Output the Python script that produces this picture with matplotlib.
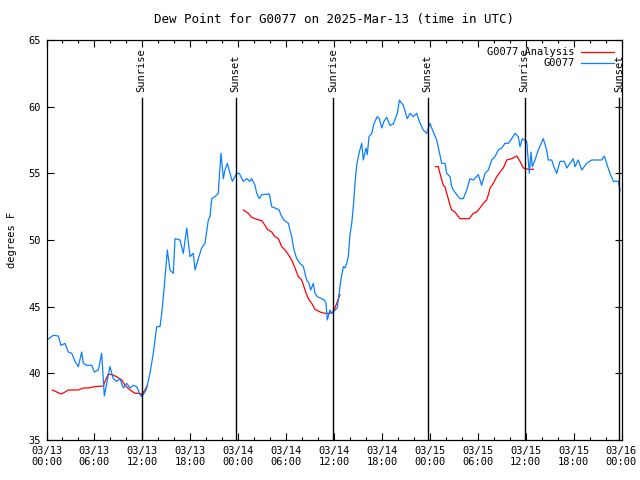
import datetime as dt
import numpy as np
import matplotlib
matplotlib.use("Agg")
import matplotlib.pyplot as plt
import matplotlib.dates as mdates

# hours after 2025-03-13 00:00 UTC, dew point in F
obs_hours = [0.15, 0.85, 1.48, 1.82, 2.32, 2.73, 3.16, 3.57, 3.98, 4.41, 4.61, 5.03, 5.66, 5.99,
             6.49, 6.91, 7.24, 7.54, 7.95, 8.36, 8.79, 9.2, 9.62, 10.04, 10.46, 10.87, 11.29,
             11.71, 11.92, 12.33, 12.55, 12.96, 13.37, 13.8, 14.21, 14.43, 14.71, 14.96, 15.13,
             15.46, 15.88, 16.09, 16.72, 17.13, 17.56, 17.97, 18.38, 18.6, 19.01, 19.43, 19.85,
             20.26, 20.47, 20.69, 21.1, 21.51, 21.64, 21.85, 22.14, 22.35, 22.64, 22.98, 23.27,
             23.82, 24.14, 24.64, 25.07, 25.48, 25.69, 26.11, 26.32, 26.65, 26.95, 27.9, 28.2,
             28.61, 29.15, 29.33, 29.74, 30.28, 30.7, 30.99, 31.33, 31.74, 32.16, 32.58, 32.87,
             33.08, 33.41, 33.62, 33.91, 34.46, 34.79, 35.0, 35.16, 35.5, 35.71, 36.13, 36.41,
             36.84, 37.17, 37.38, 37.59, 37.79, 38.0, 38.22, 38.42, 38.63, 38.84, 39.13, 39.47,
             39.67, 40.01, 40.17, 40.38, 40.72, 41.01, 41.42, 41.67, 41.97, 42.26, 42.6, 43.01,
             43.43, 43.93, 44.18, 44.68, 45.18, 45.52, 45.93, 46.36, 46.77, 47.18, 47.61, 48.02,
             48.43, 48.86, 49.19, 49.49, 49.9, 50.11, 50.53, 50.74, 50.94, 51.37, 51.78, 52.19,
             52.62, 53.03, 53.44, 54.07, 54.49, 54.91, 55.32, 55.75, 56.16, 56.57, 57.0, 57.41,
             57.83, 58.25, 58.67, 59.08, 59.29, 59.58, 60.13, 60.33, 60.46, 60.67, 60.83, 61.17,
             61.58, 62.21, 62.63, 62.83, 63.26, 63.59, 63.89, 64.3, 64.84, 65.14, 65.55, 65.97,
             66.18, 66.59, 67.02, 67.64, 68.27, 69.52, 69.85, 70.27, 70.56, 70.98, 71.61, 71.82]
obs_dew = [42.55, 42.85, 42.8, 42.1, 42.25, 41.6, 41.5, 40.9, 40.5, 41.6, 40.75, 40.6, 40.6, 40.1,
           40.25, 41.5, 38.3, 39.25, 40.5, 39.6, 39.4, 39.6, 38.9, 39.25, 38.9, 39.1, 39.0,
           38.4, 38.25, 38.6, 38.9, 40.0, 41.5, 43.5, 43.5, 44.5, 46.25, 48.0, 49.25,
           47.75, 47.5, 50.1, 50.0, 49.0, 50.9, 48.75, 49.0, 47.75, 48.6, 49.4, 49.75,
           51.5, 51.75, 53.1, 53.25, 53.5, 54.75, 56.5, 54.6, 55.25, 55.75, 55.0, 54.4,
           55.0, 55.0, 54.4, 54.6, 54.4, 54.6, 54.1, 53.5, 53.1, 53.4, 53.45, 52.5,
           52.4, 52.25, 51.9, 51.5, 51.25, 50.25, 49.25, 48.6, 48.25, 48.0, 47.0, 46.75,
           46.25, 46.75, 46.0, 45.75, 45.6, 45.5, 45.25, 44.0, 44.75, 44.5, 44.75, 44.9,
           46.9, 48.0, 47.9, 48.25, 48.75, 50.4, 51.25, 52.5, 54.25, 55.6, 56.5, 57.25,
           56.0, 56.9, 56.4, 57.75, 58.0, 58.75, 59.25, 59.1, 58.4, 58.9, 59.2, 58.6,
           58.7, 59.5, 60.5, 60.1, 59.1, 59.5, 59.25, 59.5, 58.75, 58.25, 58.0, 58.75,
           58.1, 57.5, 56.6, 55.75, 55.75, 55.0, 54.75, 54.0, 53.75, 53.4, 53.1, 53.1,
           53.75, 54.6, 54.5, 54.9, 54.1, 55.0, 55.25, 56.0, 56.25, 56.75, 56.9, 57.25,
           57.25, 57.6, 58.0, 57.75, 57.0, 57.6, 57.4, 56.0, 55.0, 56.6, 55.5, 56.0,
           56.75, 57.6, 56.75, 56.0, 56.0, 55.4, 55.0, 55.9, 55.9, 55.4, 55.75, 56.1,
           55.5, 56.0, 55.25, 55.75, 56.0, 56.0, 56.3, 55.5, 55.0, 54.4, 54.4, 53.7]

# analysis series, gaps marked with nan
ana_hours = [0.73, 1.28, 1.82, 2.32, 2.73, 3.98, 4.61, 5.23, 6.07, 7.11, 7.33, 7.74, 8.16, 8.79,
             9.42, 9.83, 10.46, 11.08, 11.71, 11.92, 12.33, 12.55, 12.6,
             24.64, 25.27, 25.69, 26.32, 26.95, 27.36, 27.65, 28.2, 28.61, 29.03, 29.45, 29.87,
             30.28, 30.7, 31.12, 31.53, 31.96, 32.37, 32.78, 33.21, 33.62, 34.25, 34.87, 35.5,
             35.91, 36.34, 36.66, 36.75, 36.8,
             48.74, 49.06, 49.27, 49.49, 49.69, 49.9, 50.11, 50.31, 50.53, 50.74, 51.15, 51.57,
             51.78, 52.94, 53.44, 53.86, 54.28, 54.69, 55.12, 55.32, 55.54, 55.95, 56.37, 56.79,
             57.2, 57.63, 58.25, 58.88, 59.29, 59.71, 60.33, 60.96]
ana_dew = [38.75, 38.6, 38.45, 38.6, 38.75, 38.75, 38.9, 38.9, 39.0, 39.05, 39.4, 39.95, 39.9, 39.75,
           39.5, 39.1, 38.75, 38.5, 38.5, 38.4, 38.75, 39.0, np.nan,
           52.25, 52.0, 51.7, 51.55, 51.45, 51.1, 50.8, 50.6, 50.25, 50.1, 49.5, 49.25,
           48.9, 48.5, 47.9, 47.25, 47.0, 46.25, 45.6, 45.25, 44.8, 44.6, 44.5, 44.5,
           44.6, 45.25, 45.75, 45.9, np.nan,
           55.5, 55.5, 55.0, 54.5, 54.1, 54.0, 53.5, 53.1, 52.6, 52.25, 52.1, 51.75,
           51.6, 51.6, 52.0, 52.1, 52.4, 52.75, 53.0, 53.4, 53.9, 54.25, 54.75, 55.1,
           55.4, 56.0, 56.1, 56.3, 55.9, 55.4, 55.3, 55.3]

sun_events = [("Sunrise", "2025-03-13 11:55"), ("Sunset", "2025-03-13 23:40"),
              ("Sunrise", "2025-03-14 11:56"), ("Sunset", "2025-03-14 23:44"),
              ("Sunrise", "2025-03-15 11:53"), ("Sunset", "2025-03-15 23:42")]

start = dt.datetime(2025, 3, 13)
t_obs = [start + dt.timedelta(hours=h) for h in obs_hours]
t_ana = [start + dt.timedelta(hours=h) for h in ana_hours]

plt.rcParams['font.family'] = 'DejaVu Sans Mono'
plt.rcParams['font.size'] = 7.5

fig = plt.figure(figsize=(6.4, 4.8), dpi=100)
ax = fig.add_axes([46.5 / 640, 40 / 480, 575 / 640, 400 / 480])

ax.plot(t_ana, ana_dew, color='#ff0000', lw=0.9, label='G0077 Analysis')
ax.plot(t_obs, obs_dew, color='#0a80ff', lw=0.9, label='G0077')

for name, when in sun_events:
    t = dt.datetime.strptime(when, "%Y-%m-%d %H:%M")
    ax.axvline(t, ymin=0, ymax=0.855, color='black', lw=1.0)
    ax.text(t, 61.1, name, rotation=90, ha='center', va='bottom', fontsize=7.5)

ax.set_xlim(start, start + dt.timedelta(days=3))
ax.set_ylim(35, 65)
ax.set_yticks([35, 40, 45, 50, 55, 60, 65])
ax.xaxis.set_major_locator(mdates.HourLocator(byhour=[0, 6, 12, 18]))
ax.xaxis.set_minor_locator(mdates.HourLocator(byhour=range(0, 24, 2)))
ax.xaxis.set_major_formatter(mdates.DateFormatter('%m/%d\n%H:%M'))
ax.tick_params(which='both', direction='in', top=True, right=True, width=0.8)
ax.tick_params(which='major', length=5, pad=4)
ax.tick_params(which='minor', length=2.5)
for s in ax.spines.values():
    s.set_linewidth(0.9)

ax.set_ylabel('degrees F', labelpad=8)
ax.set_title('Dew Point for G0077 on 2025-Mar-13 (time in UTC)', pad=12)
ax.legend(loc='upper right', frameon=False, markerfirst=False, handlelength=3.2,
          borderaxespad=0.3, labelspacing=0.1, handletextpad=0.6)

fig.savefig('out.png', dpi=100)
